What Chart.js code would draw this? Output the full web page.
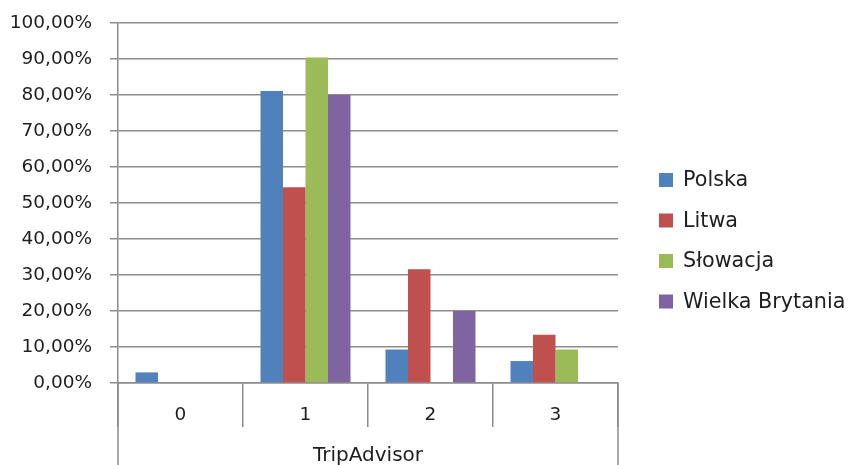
<!DOCTYPE html>
<html>
<head>
<meta charset="utf-8">
<script src="https://cdn.jsdelivr.net/npm/chart.js@4/dist/chart.umd.min.js"></script>
<style>
  html, body { margin: 0; padding: 0; background: #fff; }
  #wrap { width: 848px; height: 465px; position: relative; }
</style>
</head>
<body>
<div id="wrap"><canvas id="barChart"></canvas></div>
<script>
var categories = ['0', '1', '2', '3'];
var polska = [2.94, 81.08, 9.3, 6.1];
var litwa = [0, 54.4, 31.6, 13.4];
var slowacja = [0, 90.4, 0, 9.3];
var wielkaBrytania = [0, 80, 20, 0];
var axisTitle = 'TripAdvisor';

var gridColor = '#8c8c8c';
var textColor = '#1e1e1e';
var tickFont = { family: 'DejaVu Sans', size: 18.5 };
var bigFont = { family: 'DejaVu Sans', size: 20 };

// legend drawn on the right, plus the outer lines of the category axis
var extras = {
    id: 'extras',
    afterDraw: function (chart) {
        var c = chart.ctx;
        var area = chart.chartArea;
        c.save();
        c.strokeStyle = gridColor;
        c.lineWidth = 1.5;
        c.beginPath();
        c.moveTo(area.left, area.bottom);
        c.lineTo(area.left, chart.height);
        c.moveTo(area.right, area.bottom);
        c.lineTo(area.right, chart.height);
        c.stroke();

        c.font = '20.7px "DejaVu Sans"';
        c.textBaseline = 'middle';
        chart.data.datasets.forEach(function (ds, i) {
            var y = 180 + i * 40.5;
            c.fillStyle = ds.backgroundColor;
            c.fillRect(659, y - 7, 14, 14);
            c.fillStyle = textColor;
            c.fillText(ds.label, 683, y + 1);
        });
        c.restore();
    }
};

var ctx = document.getElementById('barChart').getContext('2d');
var myChart = new Chart(ctx, {
    type: 'bar',
    data: {
        labels: categories,
        datasets: [
            { label: 'Polska', data: polska, backgroundColor: '#4F81BD' },
            { label: 'Litwa', data: litwa, backgroundColor: '#C0504D' },
            { label: 'Słowacja', data: slowacja, backgroundColor: '#9BBB59' },
            { label: 'Wielka Brytania', data: wielkaBrytania, backgroundColor: '#8064A2' }
        ]
    },
    options: {
        responsive: true,
        maintainAspectRatio: false,
        animation: false,
        layout: { padding: { top: 23, right: 230, bottom: 0, left: 0 } },
        datasets: { bar: { categoryPercentage: 0.72, barPercentage: 1 } },
        plugins: {
            legend: { display: false },
            tooltip: { enabled: false }
        },
        scales: {
            x: {
                offset: true,
                grid: {
                    offset: true,
                    drawOnChartArea: false,
                    color: gridColor,
                    lineWidth: 1.5,
                    tickLength: 44
                },
                border: { color: gridColor, width: 1.5 },
                ticks: { color: textColor, font: tickFont, padding: -23, maxRotation: 0 },
                title: {
                    display: true,
                    text: axisTitle,
                    color: textColor,
                    font: bigFont,
                    padding: { top: 0, bottom: -3 }
                },
                afterFit: function (s) { s.height = 82; }
            },
            y: {
                min: 0,
                max: 100,
                ticks: {
                    stepSize: 10,
                    color: textColor,
                    font: tickFont,
                    padding: 18,
                    callback: function (v) { return v.toFixed(2).replace('.', ',') + '%'; }
                },
                grid: { color: gridColor, lineWidth: 1.5, tickLength: 8 },
                border: { color: gridColor, width: 1.5 },
                afterFit: function (s) {
                    s.width = 118;
                    s.paddingTop = 0;
                    s.paddingBottom = 0;
                }
            }
        }
    },
    plugins: [extras]
});
</script>
</body>
</html>
